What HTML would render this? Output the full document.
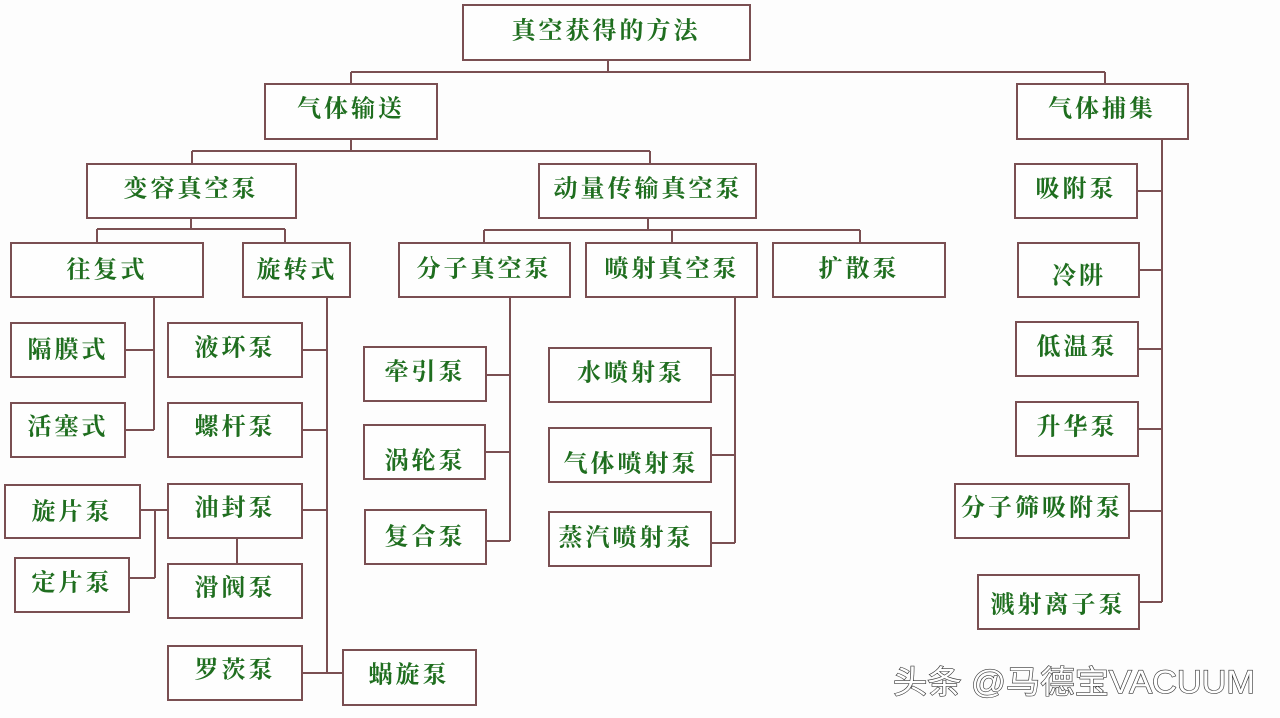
<!DOCTYPE html>
<html><head><meta charset="utf-8"><style>
html,body{margin:0;padding:0;background:#fdfdfd;}
svg{display:block}
.b{fill:#fefefe;stroke:#7a4f52;stroke-width:2}
.l{stroke:#7a4f52;stroke-width:2;fill:none}
text{font-family:"Noto Serif CJK SC","Liberation Serif",serif;font-weight:bold;fill:#1f6e1f;font-size:24px;text-anchor:middle;dominant-baseline:central;letter-spacing:3px}
.wm{font-family:"Liberation Sans","Noto Sans CJK SC",sans-serif;font-weight:normal;fill:#fff;stroke:#333;stroke-width:1.2px;font-size:32px;text-anchor:start;letter-spacing:0;paint-order:stroke}
</style></head><body>
<svg width="1280" height="718" viewBox="0 0 1280 718">
<g class="l">
<path d="M608 60V72M351 72H1105M351 72V84M1105 72V84"/>
<path d="M351 139V151M192 151H650M192 151V164M650 151V164"/>
<path d="M191 218V229M97 229H285M97 229V243M285 229V243"/>
<path d="M648 218V230M484 230H860M484 230V243M672 230V243M860 230V243"/>
<path d="M154 297V430M125 350H154M125 430H154"/>
<path d="M327 297V673M302 350H327M302 430H327M302 510H327M302 673H343"/>
<path d="M140 510H168M155 510V578M129 578H155M237 538V564"/>
<path d="M510 297V541M486 375H510M485 452H510M486 541H510"/>
<path d="M735 297V543M711 375H735M711 455H735M711 543H735"/>
<path d="M1162 139V602M1137 191H1162M1139 270H1162M1138 349H1162M1138 429H1162M1129 511H1162M1139 602H1162"/>
</g>
<g>
<rect class="b" x="463" y="5" width="287" height="55"/><text x="606" y="28">真空获得的方法</text>
<rect class="b" x="265" y="84" width="172" height="55"/><text x="351" y="106">气体输送</text>
<rect class="b" x="1017" y="84" width="171" height="55"/><text x="1102" y="106">气体捕集</text>
<rect class="b" x="87" y="164" width="209" height="54"/><text x="191" y="186">变容真空泵</text>
<rect class="b" x="539" y="164" width="217" height="54"/><text x="648" y="186">动量传输真空泵</text>
<rect class="b" x="11" y="243" width="192" height="54"/><text x="107" y="267">往复式</text>
<rect class="b" x="243" y="243" width="107" height="54"/><text x="297" y="267">旋转式</text>
<rect class="b" x="399" y="243" width="171" height="54"/><text x="484" y="266">分子真空泵</text>
<rect class="b" x="586" y="243" width="171" height="54"/><text x="672" y="266">喷射真空泵</text>
<rect class="b" x="773" y="243" width="172" height="54"/><text x="859" y="266">扩散泵</text>
<rect class="b" x="11" y="323" width="114" height="54"/><text x="68" y="347">隔膜式</text>
<rect class="b" x="11" y="403" width="114" height="54"/><text x="68" y="424">活塞式</text>
<rect class="b" x="168" y="323" width="134" height="54"/><text x="235" y="345">液环泵</text>
<rect class="b" x="168" y="403" width="134" height="54"/><text x="235" y="424">螺杆泵</text>
<rect class="b" x="5" y="485" width="135" height="53"/><text x="72" y="509">旋片泵</text>
<rect class="b" x="15" y="558" width="114" height="54"/><text x="72" y="580">定片泵</text>
<rect class="b" x="168" y="484" width="134" height="54"/><text x="235" y="505">油封泵</text>
<rect class="b" x="168" y="564" width="134" height="54"/><text x="235" y="585">滑阀泵</text>
<rect class="b" x="168" y="646" width="134" height="54"/><text x="235" y="667">罗茨泵</text>
<rect class="b" x="343" y="650" width="133" height="55"/><text x="409" y="672">蜗旋泵</text>
<rect class="b" x="364" y="347" width="122" height="54"/><text x="425" y="369">牵引泵</text>
<rect class="b" x="364" y="425" width="121" height="54"/><text x="425" y="458">涡轮泵</text>
<rect class="b" x="365" y="510" width="121" height="54"/><text x="425" y="534">复合泵</text>
<rect class="b" x="549" y="348" width="162" height="54"/><text x="631" y="370">水喷射泵</text>
<rect class="b" x="549" y="428" width="162" height="54"/><text x="631" y="461">气体喷射泵</text>
<rect class="b" x="549" y="512" width="162" height="54"/><text x="626" y="535">蒸汽喷射泵</text>
<rect class="b" x="1015" y="164" width="122" height="54"/><text x="1076" y="186">吸附泵</text>
<rect class="b" x="1018" y="243" width="121" height="54"/><text x="1079" y="273">冷阱</text>
<rect class="b" x="1016" y="322" width="122" height="54"/><text x="1077" y="344">低温泵</text>
<rect class="b" x="1016" y="402" width="122" height="54"/><text x="1077" y="424">升华泵</text>
<rect class="b" x="955" y="484" width="174" height="54"/><text x="1042" y="505">分子筛吸附泵</text>
<rect class="b" x="978" y="575" width="161" height="54"/><text x="1058" y="602">溅射离子泵</text>
</g>
<text class="wm" x="893" y="682" textLength="362" lengthAdjust="spacingAndGlyphs">头条 @马德宝VACUUM</text>
</svg>
</body></html>
